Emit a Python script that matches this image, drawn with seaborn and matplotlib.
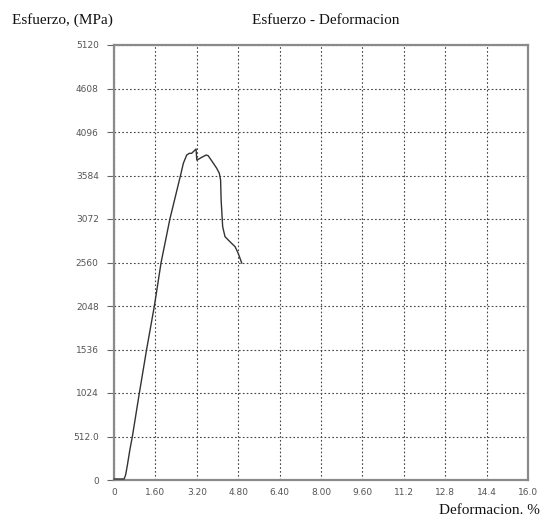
import matplotlib
matplotlib.use("Agg")
import matplotlib.pyplot as plt
import seaborn as sns
import pandas as pd

deformacion = [0, 0.39, 0.45, 0.52, 0.61, 0.71, 0.98, 1.26, 1.56, 1.82, 2.16, 2.57,
               2.68, 2.81, 2.91, 3.00, 3.09, 3.17, 3.20, 3.26, 3.39, 3.56, 3.64, 3.71,
               3.84, 3.97, 4.07, 4.12, 4.14, 4.20, 4.29, 4.48, 4.68, 4.80, 4.94]
esfuerzo = [12, 12, 60, 180, 350, 512, 1024, 1536, 2048, 2560, 3072, 3584,
            3728, 3825, 3845, 3845, 3872, 3896, 3766, 3775, 3798, 3825, 3817, 3786,
            3728, 3669, 3610, 3531, 3296, 2981, 2864, 2805, 2746, 2668, 2551]

x_ticks = [0, 1.6, 3.2, 4.8, 6.4, 8.0, 9.6, 11.2, 12.8, 14.4, 16.0]
x_labels = ["0", "1.60", "3.20", "4.80", "6.40", "8.00", "9.60", "11.2", "12.8", "14.4", "16.0"]
y_ticks = [0, 512, 1024, 1536, 2048, 2560, 3072, 3584, 4096, 4608, 5120]
y_labels = ["0", "512.0", "1024", "1536", "2048", "2560", "3072", "3584", "4096", "4608", "5120"]

df = pd.DataFrame({"Deformacion": deformacion, "Esfuerzo": esfuerzo})

sns.set_style("white")
plt.rcParams["font.family"] = ["DejaVu Sans"]

fig = plt.figure(figsize=(5.43, 5.20), dpi=100)
ax = fig.add_axes([114 / 543, 1 - 480 / 520, (528 - 114) / 543, (480 - 45) / 520])

sns.lineplot(data=df, x="Deformacion", y="Esfuerzo", ax=ax, sort=False, estimator=None,
             color="#333333", linewidth=1.0, zorder=3)
for ln in ax.lines:
    ln.set_clip_on(False)

ax.set_xlim(0, 16.0)
ax.set_ylim(0, 5120)
ax.set_xticks(x_ticks)
ax.set_xticklabels(x_labels)
ax.set_yticks(y_ticks)
ax.set_yticklabels(y_labels)
ax.set_xlabel("")
ax.set_ylabel("")

ax.grid(True, linestyle=(0, (1.5, 2)), color="#444444", linewidth=0.8)
for s in ax.spines.values():
    s.set_color("#8a8a8a")
    s.set_linewidth(1.6)

ax.tick_params(axis="y", direction="out", length=5, width=0.8, color="#666666",
               labelsize=6.5, labelcolor="#555555", pad=6, left=True)
ax.tick_params(axis="x", direction="out", length=0, labelsize=6.5,
               labelcolor="#555555", pad=6)

serif = ["Liberation Serif", "DejaVu Serif"]
fig.text(12 / 543, 1 - 20 / 520, "Esfuerzo, (MPa)", family=serif, fontsize=11,
         ha="left", va="center", color="#111111")
fig.text(326 / 543, 1 - 20 / 520, "Esfuerzo - Deformacion", family=serif, fontsize=11,
         ha="center", va="center", color="#111111")
fig.text(540 / 543, 1 - 510 / 520, "Deformacion. %", family=serif, fontsize=11,
         ha="right", va="center", color="#111111")

fig.savefig("out.png", dpi=100)
